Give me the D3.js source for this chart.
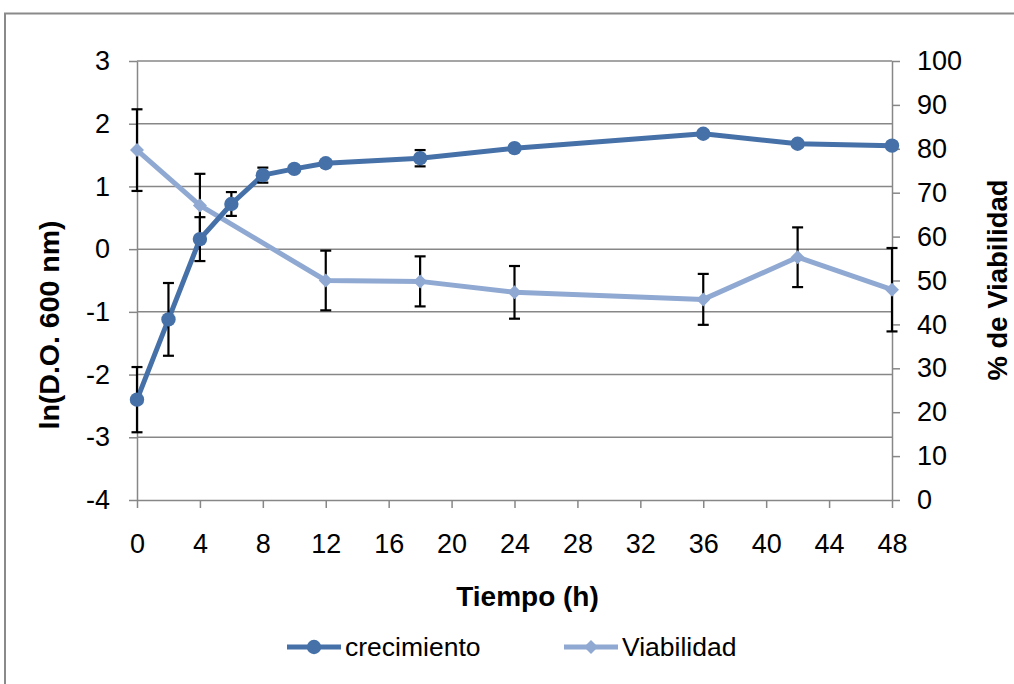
<!DOCTYPE html>
<html>
<head>
<meta charset="utf-8">
<script src="https://cdn.jsdelivr.net/npm/d3@7"></script>
<style>
  body { margin: 0; background: #fff; }
  text { font-family: "Liberation Sans", Arial, sans-serif; fill: #000; }
</style>
</head>
<body>
<script>
// data
const tiempo = [0, 2, 4, 6, 8, 10, 12, 18, 24, 36, 42, 48];
const crecimiento = [-2.40, -1.12, 0.16, 0.72, 1.18, 1.28, 1.37, 1.45, 1.61, 1.84, 1.68, 1.65];
const errCrecimiento = [0.52, 0.58, 0.35, 0.19, 0.12, 0.05, 0.05, 0.13, 0.05, 0.05, 0.05, 0.05];
const tiempoViab = [0, 4, 12, 18, 24, 36, 42, 48];
const viabilidad = [79.7, 67.1, 50.0, 49.8, 47.3, 45.7, 55.3, 47.9];
const errViabilidad = [9.3, 7.2, 6.8, 5.7, 6.0, 5.8, 6.8, 9.5];
const xTicks = [0, 4, 8, 12, 16, 20, 24, 28, 32, 36, 40, 44, 48];
const yLeftTicks = [-4, -3, -2, -1, 0, 1, 2, 3];
const yRightTicks = [0, 10, 20, 30, 40, 50, 60, 70, 80, 90, 100];

const w = 1014, h = 684;
const x0 = 137, x1 = 892, yTop = 61, yBot = 500;
const colCrec = "#4671a8", colViab = "#8fa9d2", gridCol = "#878787";

const svg = d3.select("body").append("svg")
    .attr("width", w)
    .attr("height", h);

// chart border
svg.append("rect")
    .attr("x", 5).attr("y", 13.5)
    .attr("width", 1100).attr("height", 800)
    .attr("fill", "none")
    .attr("stroke", "#8a8a8a")
    .attr("stroke-width", 2);

let xScale = d3.scaleLinear().domain([0, 48]).range([x0, x1]);
let yLeft = d3.scaleLinear().domain([-4, 3]).range([yBot, yTop]);
let yRight = d3.scaleLinear().domain([0, 100]).range([yBot, yTop]);

//gridlines
svg.append("g")
    .selectAll("line")
    .data(yLeftTicks.filter(d => d > -4))
    .enter()
    .append("line")
    .attr("x1", x0).attr("x2", x1)
    .attr("y1", d => yLeft(d)).attr("y2", d => yLeft(d))
    .attr("stroke", gridCol)
    .attr("stroke-width", 1.5);

function styleAxis(g) {
    g.selectAll("path").attr("stroke", gridCol).attr("stroke-width", 1.5);
    g.selectAll(".tick line").attr("stroke", gridCol).attr("stroke-width", 1.5);
    g.selectAll("text").attr("font-size", 27).attr("font-family", "Liberation Sans, Arial, sans-serif").attr("fill", "#000");
}
const plainFmt = d => String(d);

//axes
svg.append("g")
    .attr("transform", "translate(0," + yBot + ")")
    .call(d3.axisBottom(xScale).tickValues(xTicks).tickFormat(plainFmt).tickSize(8).tickPadding(26).tickSizeOuter(0))
    .call(styleAxis);
svg.append("g")
    .attr("transform", "translate(" + x0 + ",0)")
    .call(d3.axisLeft(yLeft).tickValues(yLeftTicks).tickFormat(plainFmt).tickSize(8).tickPadding(19).tickSizeOuter(0))
    .call(styleAxis);
svg.append("g")
    .attr("transform", "translate(" + x1 + ",0)")
    .call(d3.axisRight(yRight).tickValues(yRightTicks).tickFormat(plainFmt).tickSize(8).tickPadding(17).tickSizeOuter(0))
    .call(styleAxis);

//axis titles
svg.append("text")
    .attr("x", (x0 + x1) / 2 + 13).attr("y", 606)
    .attr("text-anchor", "middle")
    .attr("font-size", 28).attr("font-weight", "bold")
    .text("Tiempo (h)");
svg.append("text")
    .attr("transform", "translate(59,325) rotate(-90)")
    .attr("text-anchor", "middle")
    .attr("font-size", 28.5).attr("font-weight", "bold")
    .text("ln(D.O. 600 nm)");
svg.append("text")
    .attr("transform", "translate(1007,280) rotate(-90)")
    .attr("text-anchor", "middle")
    .attr("font-size", 27.5).attr("font-weight", "bold")
    .text("% de Viabilidad");

const crecData = tiempo.map((t, i) => ({ t: t, v: crecimiento[i], e: errCrecimiento[i] }));
const viabData = tiempoViab.map((t, i) => ({ t: t, v: viabilidad[i], e: errViabilidad[i] }));

function drawSeries(data, yScale, color, marker) {
    let line = d3.line().x(d => xScale(d.t)).y(d => yScale(d.v));
    svg.append("path")
        .datum(data)
        .attr("d", line)
        .attr("fill", "none")
        .attr("stroke", color)
        .attr("stroke-width", 5)
        .attr("stroke-linejoin", "round");
    return function () {
        //error bars
        let eb = svg.append("g")
            .selectAll("g")
            .data(data)
            .enter()
            .append("g")
            .attr("stroke", "#000")
            .attr("stroke-width", 2.2);
        eb.append("line")
            .attr("x1", d => xScale(d.t)).attr("x2", d => xScale(d.t))
            .attr("y1", d => yScale(d.v - d.e)).attr("y2", d => yScale(d.v + d.e));
        eb.append("line")
            .attr("x1", d => xScale(d.t) - 5.5).attr("x2", d => xScale(d.t) + 5.5)
            .attr("y1", d => yScale(d.v + d.e)).attr("y2", d => yScale(d.v + d.e));
        eb.append("line")
            .attr("x1", d => xScale(d.t) - 5.5).attr("x2", d => xScale(d.t) + 5.5)
            .attr("y1", d => yScale(d.v - d.e)).attr("y2", d => yScale(d.v - d.e));
        //markers
        svg.append("g")
            .selectAll("path")
            .data(data)
            .enter()
            .append("path")
            .attr("d", marker)
            .attr("transform", d => "translate(" + xScale(d.t) + "," + yScale(d.v) + ")")
            .attr("fill", color);
    };
}

const circleMarker = d3.symbol().type(d3.symbolCircle).size(Math.PI * 7.2 * 7.2)();
const diamondMarker = "M0,-7L7,0L0,7L-7,0Z";

let viabTop = drawSeries(viabData, yRight, colViab, diamondMarker);
let crecTop = drawSeries(crecData, yLeft, colCrec, circleMarker);
viabTop();
crecTop();

//legend
const legendItems = [
    { name: "crecimiento", color: colCrec, marker: circleMarker, x: 287 },
    { name: "Viabilidad", color: colViab, marker: diamondMarker, x: 564 }
];
let lg = svg.append("g")
    .selectAll("g")
    .data(legendItems)
    .enter()
    .append("g")
    .attr("transform", d => "translate(" + d.x + ",647)");
lg.append("line")
    .attr("x1", 0).attr("x2", 54)
    .attr("stroke", d => d.color)
    .attr("stroke-width", 5);
lg.append("path")
    .attr("d", d => d.marker)
    .attr("transform", "translate(27,0)")
    .attr("fill", d => d.color);
lg.append("text")
    .attr("x", 58).attr("y", 9)
    .attr("font-size", 26.5)
    .text(d => d.name);
</script>
</body>
</html>
